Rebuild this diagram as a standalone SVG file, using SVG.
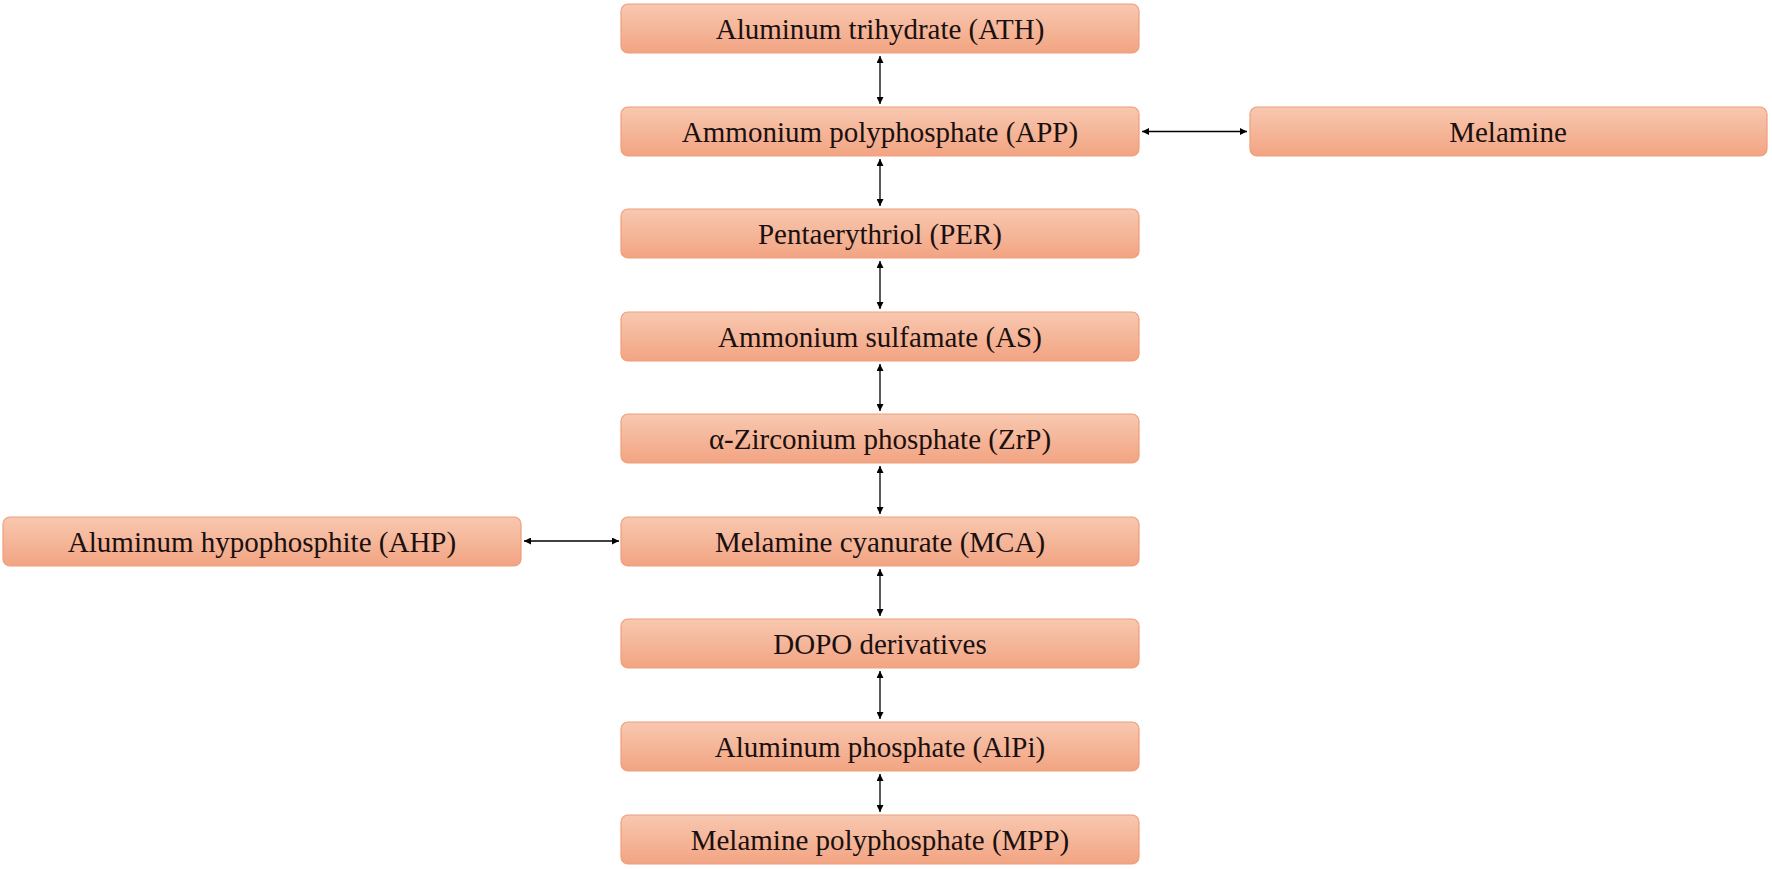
<svg xmlns="http://www.w3.org/2000/svg" width="1772" height="869" viewBox="0 0 1772 869">
<defs>
<linearGradient id="g" x1="0" y1="0" x2="0" y2="1">
<stop offset="0" stop-color="#f8c8b0"/>
<stop offset="1" stop-color="#f2a482"/>
</linearGradient>
<marker id="ah" viewBox="0 0 10 10" refX="10" refY="5" markerWidth="7" markerHeight="7" markerUnits="userSpaceOnUse" orient="auto-start-reverse">
<path d="M0,0 L10,5 L0,10 z" fill="#000"/>
</marker>
<style>
.box{fill:url(#g);stroke:#ee9e7a;stroke-width:1.2}
.lbl{font-family:"Liberation Serif","Times New Roman",serif;font-size:29px;fill:#1a1010;text-anchor:middle}
.c{stroke:#000;stroke-width:1.3;fill:none;marker-start:url(#ah);marker-end:url(#ah)}
</style>
</defs>
<rect width="1772" height="869" fill="#fff"/>
<g id="connectors">
<line class="c" x1="880" y1="56" x2="880" y2="104"/>
<line class="c" x1="880" y1="159" x2="880" y2="206"/>
<line class="c" x1="880" y1="261" x2="880" y2="309"/>
<line class="c" x1="880" y1="364" x2="880" y2="411"/>
<line class="c" x1="880" y1="466" x2="880" y2="514"/>
<line class="c" x1="880" y1="569" x2="880" y2="616"/>
<line class="c" x1="880" y1="671" x2="880" y2="719"/>
<line class="c" x1="880" y1="774" x2="880" y2="812"/>
<line class="c" x1="1142" y1="131.5" x2="1247" y2="131.5"/>
<line class="c" x1="524" y1="541" x2="619" y2="541"/>
</g>
<g id="n-ath"><rect class="box" x="621" y="4" width="518" height="49" rx="7"/><text class="lbl" x="880" y="39">Aluminum trihydrate (ATH)</text></g>
<g id="n-app"><rect class="box" x="621" y="107" width="518" height="49" rx="7"/><text class="lbl" x="880" y="142">Ammonium polyphosphate (APP)</text></g>
<g id="n-mel"><rect class="box" x="1250" y="107" width="517" height="49" rx="7"/><text class="lbl" x="1508" y="142">Melamine</text></g>
<g id="n-per"><rect class="box" x="621" y="209" width="518" height="49" rx="7"/><text class="lbl" x="880" y="244">Pentaerythriol (PER)</text></g>
<g id="n-as"><rect class="box" x="621" y="312" width="518" height="49" rx="7"/><text class="lbl" x="880" y="347">Ammonium sulfamate (AS)</text></g>
<g id="n-zrp"><rect class="box" x="621" y="414" width="518" height="49" rx="7"/><text class="lbl" x="880" y="449">α-Zirconium phosphate (ZrP)</text></g>
<g id="n-mca"><rect class="box" x="621" y="517" width="518" height="49" rx="7"/><text class="lbl" x="880" y="552">Melamine cyanurate (MCA)</text></g>
<g id="n-ahp"><rect class="box" x="3" y="517" width="518" height="49" rx="7"/><text class="lbl" x="262" y="552">Aluminum hypophosphite (AHP)</text></g>
<g id="n-dopo"><rect class="box" x="621" y="619" width="518" height="49" rx="7"/><text class="lbl" x="880" y="654">DOPO derivatives</text></g>
<g id="n-alpi"><rect class="box" x="621" y="722" width="518" height="49" rx="7"/><text class="lbl" x="880" y="757">Aluminum phosphate (AlPi)</text></g>
<g id="n-mpp"><rect class="box" x="621" y="815" width="518" height="49" rx="7"/><text class="lbl" x="880" y="850">Melamine polyphosphate (MPP)</text></g>
</svg>
